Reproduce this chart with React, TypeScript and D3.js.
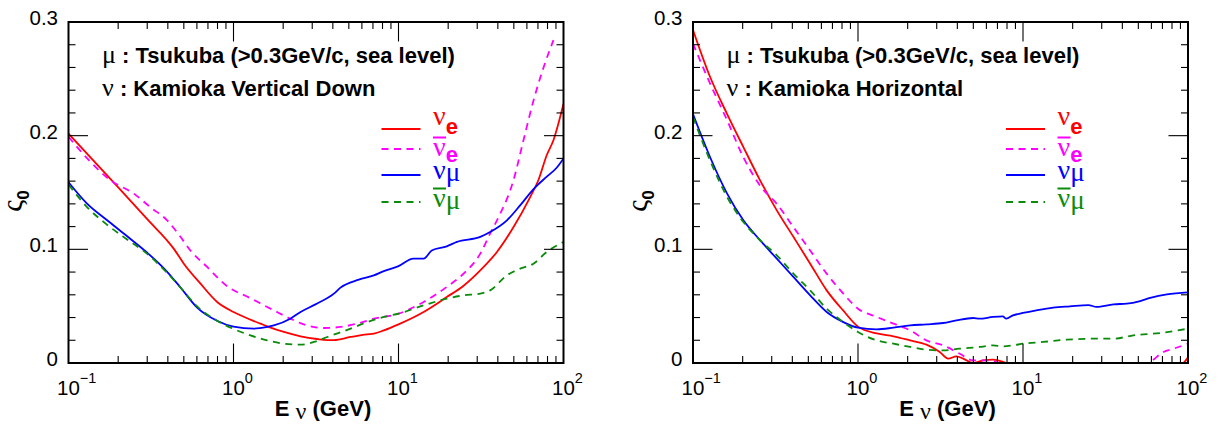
import React from 'react';
import * as d3 from 'd3';

// ---- ς0 versus neutrino energy (GeV) ----
// Kamioka, vertical down
const downNueE = [0.1, 0.197, 0.3, 0.434, 0.5, 0.631, 0.796, 1.0, 1.267, 1.458, 1.6, 2.02, 2.55, 3.21, 3.7, 4.06, 5.12, 6.46, 7.09, 8.15, 10, 14.2, 19.6, 24.8, 31.3, 39.5, 49.8, 62.8, 70.5, 79.2, 86.9, 100];
const downNueV = [0.2018, 0.1557, 0.1265, 0.1006, 0.0874, 0.0698, 0.0537, 0.0449, 0.0381, 0.0346, 0.0323, 0.0273, 0.0235, 0.0211, 0.0202, 0.0202, 0.0229, 0.0252, 0.0258, 0.0287, 0.034, 0.0449, 0.058, 0.068, 0.0815, 0.0977, 0.1196, 0.146, 0.161, 0.183, 0.196, 0.228];

const downNuebarE = [0.1, 0.1298, 0.1798, 0.249, 0.314, 0.396, 0.477, 0.548, 0.692, 0.916, 1.267, 1.755, 2.21, 2.79, 3.53, 4.45, 5.61, 7.09, 10, 14.2, 19.6, 24.8, 31.3, 35.9, 39.5, 49.8, 57.2, 65.8, 75.7, 86.9];
const downNuebarV = [0.199, 0.18, 0.1607, 0.149, 0.137, 0.1255, 0.111, 0.099, 0.0845, 0.0675, 0.057, 0.0463, 0.039, 0.0331, 0.0308, 0.0317, 0.0346, 0.039, 0.0434, 0.0537, 0.0669, 0.0786, 0.0962, 0.1138, 0.1255, 0.161, 0.196, 0.231, 0.26, 0.284];

const downNumuE = [0.1, 0.13, 0.17, 0.22, 0.3, 0.38, 0.48, 0.6, 0.8, 1.0, 1.33, 1.6, 1.755, 2.21, 2.55, 3.14, 4.06, 4.45, 5.75, 7.09, 8.15, 10, 12.3, 14.2, 15.9, 19.6, 22.6, 31.3, 35.9, 45.4, 54.6, 65.8, 79.2, 91.2, 100];
const downNumuV = [0.159, 0.14, 0.126, 0.113, 0.097, 0.083, 0.066, 0.049, 0.037, 0.032, 0.0302, 0.0317, 0.0331, 0.039, 0.0449, 0.0516, 0.061, 0.0663, 0.0733, 0.0771, 0.0809, 0.0852, 0.0918, 0.0918, 0.099, 0.1026, 0.1065, 0.1109, 0.1152, 0.1255, 0.1387, 0.153, 0.164, 0.172, 0.18];

const downNumubarE = [0.1, 0.13, 0.17, 0.22, 0.3, 0.38, 0.48, 0.6, 0.8, 1.0, 1.267, 1.6, 2.02, 2.55, 3.07, 3.7, 5.12, 6.46, 8.15, 10, 14.2, 19.6, 24.8, 31.3, 35.9, 45.4, 54.6, 65.8, 79.2, 100];
const downNumubarV = [0.157, 0.137, 0.122, 0.11, 0.096, 0.082, 0.066, 0.05, 0.037, 0.03, 0.0243, 0.0199, 0.017, 0.0161, 0.0185, 0.0229, 0.0302, 0.036, 0.0405, 0.0434, 0.0507, 0.0566, 0.0595, 0.061, 0.0639, 0.0771, 0.083, 0.0874, 0.0977, 0.1065];

// Kamioka, horizontal
const horNueE = [0.1, 0.127, 0.161, 0.202, 0.255, 0.322, 0.406, 0.513, 0.646, 0.815, 1.0, 1.3, 1.64, 2.07, 2.6, 3.13, 3.52, 3.95, 4.34, 4.99, 5.73, 6.59, 7.57, 9.0, 15, 30, 60, 85, 94, 100];
const horNueV = [0.293, 0.2516, 0.219, 0.19, 0.1607, 0.1343, 0.111, 0.0874, 0.0639, 0.046, 0.032, 0.026, 0.0235, 0.0199, 0.0161, 0.0097, 0.0038, 0.0059, 0.0038, 0.0, 0.0023, 0.003, 0.001, -0.004, -0.01, -0.012, -0.008, -0.003, 0.0, 0.005];

const horNuebarE = [0.1, 0.127, 0.161, 0.202, 0.255, 0.322, 0.406, 0.513, 0.646, 0.815, 1.0, 1.3, 1.64, 2.07, 2.6, 3.28, 4.14, 4.99, 5.73, 6.59, 8.0, 15, 30, 45, 59, 71, 81.8, 100];
const horNuebarV = [0.281, 0.2457, 0.2135, 0.181, 0.156, 0.14, 0.1196, 0.099, 0.0786, 0.061, 0.0478, 0.0405, 0.0346, 0.0287, 0.0199, 0.0155, 0.0082, 0.0023, 0.0023, 0.0015, -0.003, -0.008, -0.008, -0.004, 0.001, 0.0097, 0.0126, 0.017];

const horNumuE = [0.1, 0.127, 0.161, 0.202, 0.255, 0.322, 0.406, 0.513, 0.646, 0.815, 1.0, 1.3, 1.64, 2.07, 2.6, 3.28, 3.95, 4.99, 5.45, 6.57, 7.55, 7.92, 8.69, 10, 12.05, 15.23, 19.23, 24.9, 27.9, 35.3, 42.6, 51.3, 59, 74.5, 100];
const horNumuV = [0.219, 0.181, 0.149, 0.1255, 0.108, 0.0918, 0.0757, 0.0595, 0.0449, 0.036, 0.0311, 0.0296, 0.0311, 0.0331, 0.034, 0.0352, 0.0375, 0.0396, 0.039, 0.0405, 0.041, 0.039, 0.0419, 0.044, 0.0463, 0.0487, 0.0499, 0.051, 0.0493, 0.0516, 0.0522, 0.0545, 0.0572, 0.0604, 0.0622];

const horNumubarE = [0.1, 0.127, 0.161, 0.202, 0.255, 0.322, 0.406, 0.513, 0.646, 0.815, 1.0, 1.3, 1.64, 2.07, 2.6, 3.28, 4.12, 5.45, 6.57, 7.55, 8.69, 10, 13.2, 18.4, 26.7, 35.3, 46.7, 67.9, 100];
const horNumubarV = [0.2164, 0.178, 0.146, 0.124, 0.108, 0.0947, 0.0786, 0.0639, 0.0478, 0.036, 0.0273, 0.0199, 0.017, 0.0141, 0.0117, 0.0111, 0.0126, 0.0141, 0.0155, 0.0147, 0.0155, 0.017, 0.0185, 0.0205, 0.0214, 0.0214, 0.0243, 0.0264, 0.0302];

// axes
const xMajorTicks = [0.1, 1, 10, 100];
const xTickExponents = ['\u22121', '0', '1', '2'];
const yMajorTicks = [0, 0.1, 0.2, 0.3];
const yTickLabels = ['0', '0.1', '0.2', '0.3'];

const panelSites = ['Kamioka Vertical Down', 'Kamioka Horizontal'];
const muonSite = ' : Tsukuba (>0.3GeV/c, sea level)';

// ---- styling / layout ----
const W = 1223;
const H = 424;
const PLOT_W = 495;
const TOP = 22;
const BOTTOM = 363;
const PANEL_LEFT = [68.5, 693];
const SANS = '"Liberation Sans", Arial, Helvetica, sans-serif';
const SERIF = '"Liberation Serif", "Times New Roman", serif';

const RED = '#ff0000';
const MAGENTA = '#ff00ff';
const BLUE = '#0000ff';
const GREEN = '#0a8c0a';
const DASH = '7,5.5';

type Flavor = {
  key: string;
  color: string;
  dash?: string;
  sub: string;
  subBold: boolean;
  anti: boolean;
  lineY: number;
  nuDy: number;
  subDy: number;
};

const flavors: Flavor[] = [
  { key: 'nue', color: RED, sub: 'e', subBold: true, anti: false, lineY: 129, nuDy: -4, subDy: 9 },
  { key: 'nuebar', color: MAGENTA, dash: DASH, sub: 'e', subBold: true, anti: true, lineY: 149, nuDy: 7, subDy: 6 },
  { key: 'numu', color: BLUE, sub: '\u03bc', subBold: false, anti: false, lineY: 175, nuDy: 4, subDy: 2 },
  { key: 'numubar', color: GREEN, dash: DASH, sub: '\u03bc', subBold: false, anti: true, lineY: 202, nuDy: 5, subDy: 2 },
];

const panelCurves = [
  { nue: [downNueE, downNueV], nuebar: [downNuebarE, downNuebarV], numu: [downNumuE, downNumuV], numubar: [downNumubarE, downNumubarV] },
  { nue: [horNueE, horNueV], nuebar: [horNuebarE, horNuebarV], numu: [horNumuE, horNumuV], numubar: [horNumubarE, horNumubarV] },
];

function Panel({ index }: { index: number }) {
  const left = PANEL_LEFT[index];
  const right = left + PLOT_W;
  const x = d3.scaleLog().domain([0.1, 100]).range([left, right]);
  const y = d3.scaleLinear().domain([0, 0.3]).range([BOTTOM, TOP]);
  const clipId = `plot-clip-${index}`;

  const xMinor: number[] = [];
  xMajorTicks.slice(0, -1).forEach((d) => {
    for (let k = 2; k <= 9; k++) xMinor.push(d * k);
  });
  const yMinor = d3.range(1, 15).map((i) => i * 0.02).filter((_, i) => (i + 1) % 5 !== 0);

  const line = d3
    .line<[number, number]>()
    .x((d) => x(d[0]))
    .y((d) => y(d[1]))
    .curve(d3.curveMonotoneX);

  const MAJ = 19.5;
  const MIN = 7;
  const curves = panelCurves[index] as Record<string, number[][]>;
  const cx = (left + right) / 2;

  return (
    <g>
      <defs>
        <clipPath id={clipId}>
          <rect x={left} y={TOP} width={PLOT_W} height={BOTTOM - TOP} />
        </clipPath>
      </defs>

      {/* curves */}
      <g clipPath={`url(#${clipId})`}>
        {flavors.map((f) => {
          const [es, vs] = curves[f.key];
          const pts = es.map((e, i) => [e, vs[i]] as [number, number]);
          return (
            <path
              key={f.key}
              d={line(pts) || ''}
              fill="none"
              stroke={f.color}
              strokeWidth={1.8}
              strokeDasharray={f.dash}
            />
          );
        })}
      </g>

      {/* ticks */}
      <g stroke="#000" strokeWidth={1.1}>
        {xMajorTicks.slice(1, -1).map((v) => (
          <g key={`xM${v}`}>
            <line x1={x(v)} x2={x(v)} y1={BOTTOM} y2={BOTTOM - MAJ} />
            <line x1={x(v)} x2={x(v)} y1={TOP} y2={TOP + MAJ} />
          </g>
        ))}
        {xMinor.map((v) => (
          <g key={`xm${v}`}>
            <line x1={x(v)} x2={x(v)} y1={BOTTOM} y2={BOTTOM - MIN} />
            <line x1={x(v)} x2={x(v)} y1={TOP} y2={TOP + MIN} />
          </g>
        ))}
        {yMajorTicks.slice(1, -1).map((v) => (
          <g key={`yM${v}`}>
            <line x1={left} x2={left + MAJ} y1={y(v)} y2={y(v)} />
            <line x1={right} x2={right - MAJ} y1={y(v)} y2={y(v)} />
          </g>
        ))}
        {yMinor.map((v) => (
          <g key={`ym${v}`}>
            <line x1={left} x2={left + MIN} y1={y(v)} y2={y(v)} />
            <line x1={right} x2={right - MIN} y1={y(v)} y2={y(v)} />
          </g>
        ))}
      </g>

      {/* frame */}
      <rect x={left} y={TOP} width={PLOT_W} height={BOTTOM - TOP} fill="none" stroke="#000" strokeWidth={2} />

      {/* y tick labels */}
      {yMajorTicks.map((v, i) => (
        <text key={`yl${v}`} x={left - 10.5} y={y(v) + 3} textAnchor="end" fontFamily={SANS} fontSize={20.5}>
          {yTickLabels[i]}
        </text>
      ))}

      {/* x tick labels: 10^n */}
      {xMajorTicks.map((v, i) => (
        <g key={`xl${v}`} fontFamily={SANS}>
          <text x={x(v)} y={395} textAnchor="middle" fontSize={20.5}>
            10
          </text>
          <text x={x(v) + 11.3} y={383} fontSize={14.5}>
            {xTickExponents[i]}
          </text>
        </g>
      ))}

      {/* x axis title */}
      <text x={cx + 7} y={416} textAnchor="middle" style={{ whiteSpace: 'pre' }}>
        <tspan fontFamily={SANS} fontWeight="bold" fontSize={22}>E </tspan>
        <tspan fontFamily={SERIF} fontSize={24} dy={3}>{'\u03bd'}</tspan>
        <tspan fontFamily={SANS} fontWeight="bold" fontSize={22} dy={-3}> (GeV)</tspan>
      </text>

      {/* y axis title */}
      <text transform={`translate(${left - 46.5},201) rotate(-90)`} textAnchor="middle">
        <tspan fontFamily={SERIF} fontSize={30}>{'\u03c2'}</tspan>
        <tspan fontFamily={SANS} fontWeight="bold" fontSize={17} dy={7}>0</tspan>
      </text>

      {/* site annotations */}
      <text x={left + 33.5} y={63} style={{ whiteSpace: 'pre' }}>
        <tspan fontFamily={SERIF} fontSize={26}>{'\u03bc'}</tspan>
        <tspan fontFamily={SANS} fontWeight="bold" fontSize={22}>{muonSite}</tspan>
      </text>
      <text x={left + 33.5} y={96} style={{ whiteSpace: 'pre' }}>
        <tspan fontFamily={SERIF} fontSize={26}>{'\u03bd'}</tspan>
        <tspan fontFamily={SANS} fontWeight="bold" fontSize={22}>{' : ' + panelSites[index]}</tspan>
      </text>

      {/* legend */}
      {flavors.map((f) => {
        const lx = left + 364.5;
        const ny = f.lineY + f.nuDy;
        return (
          <g key={`lg${f.key}`}>
            <line
              x1={left + 313}
              x2={left + 352}
              y1={f.lineY}
              y2={f.lineY}
              stroke={f.color}
              strokeWidth={1.8}
              strokeDasharray={f.dash}
            />
            {f.anti && (
              <line x1={lx} x2={lx + 13} y1={ny - 18.5} y2={ny - 18.5} stroke={f.color} strokeWidth={2} />
            )}
            <text x={lx} y={ny} fill={f.color}>
              <tspan fontFamily={SERIF} fontSize={28}>{'\u03bd'}</tspan>
              <tspan
                fontFamily={f.subBold ? SANS : SERIF}
                fontWeight={f.subBold ? 'bold' : 'normal'}
                fontSize={f.subBold ? 22 : 27}
                dy={f.subDy}
              >
                {f.sub}
              </tspan>
            </text>
          </g>
        );
      })}
    </g>
  );
}

export default function App() {
  return (
    <svg
      width={W}
      height={H}
      viewBox={`0 0 ${W} ${H}`}
      style={{ position: 'absolute', left: 0, top: 0, background: '#fff' }}
    >
      <rect width={W} height={H} fill="#fff" />
      <Panel index={0} />
      <Panel index={1} />
    </svg>
  );
}
